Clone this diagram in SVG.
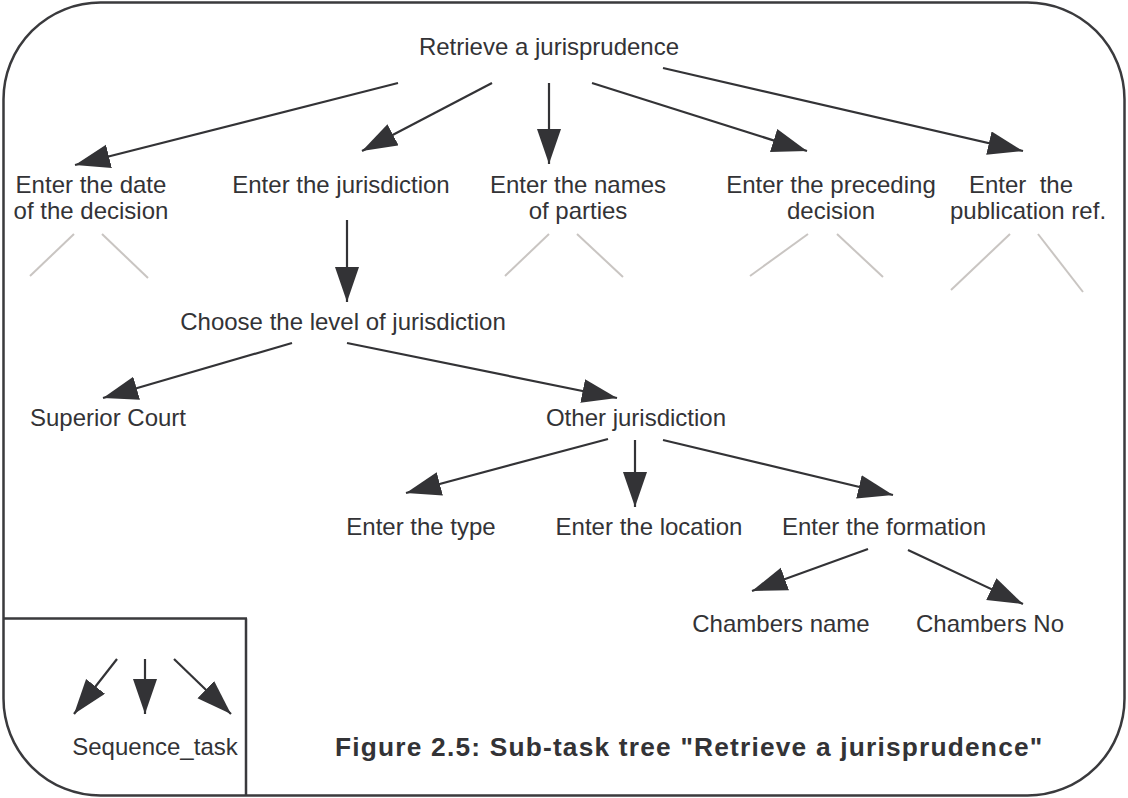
<svg xmlns="http://www.w3.org/2000/svg" width="1128" height="798" viewBox="0 0 1128 798">
<style>
.t{font-family:"Liberation Sans",Arial,sans-serif;font-size:24px;fill:#333336;text-anchor:middle}
.cap{font-family:"Liberation Sans",Arial,sans-serif;font-size:26.3px;font-weight:bold;fill:#333336;letter-spacing:1.2px}
.c{stroke:#333336;stroke-width:2.2;fill:none;marker-end:url(#ah)}
.g{stroke:#c9c5c2;stroke-width:2;fill:none}
.frame{stroke:#3a3a3d;stroke-width:2.5;fill:none}
</style>
<defs>
<marker id="ah" markerUnits="userSpaceOnUse" markerWidth="38" markerHeight="26" refX="35" refY="12" orient="auto">
<path d="M0,0 L35,12 L0,24 z" fill="#333336"/>
</marker>
</defs>
<rect class="frame" x="3.5" y="2.5" width="1121" height="793" rx="97" ry="97"/>
<g id="legend">
<path class="frame" d="M3.5,618.5 H247 M246,618.5 V796"/>
<line class="c" x1="117" y1="659" x2="74" y2="714"/>
<line class="c" x1="145" y1="659" x2="145" y2="714"/>
<line class="c" x1="174" y1="659" x2="231" y2="714"/>
<text class="t" x="155" y="755">Sequence_task</text>
</g>
<g id="caption"><text class="cap" x="335" y="756">Figure 2.5: Sub-task tree "Retrieve a jurisprudence"</text></g>
<g id="connectors">
<line class="c" x1="398" y1="83" x2="75" y2="165"/>
<line class="c" x1="492" y1="83" x2="362" y2="151"/>
<line class="c" x1="549" y1="83" x2="549" y2="164"/>
<line class="c" x1="592" y1="83" x2="807" y2="151"/>
<line class="c" x1="663" y1="68" x2="1023" y2="151"/>
<line class="c" x1="347" y1="220" x2="347" y2="302"/>
<line class="c" x1="292" y1="343" x2="103" y2="398"/>
<line class="c" x1="347" y1="343" x2="617" y2="398"/>
<line class="c" x1="608" y1="439" x2="406" y2="493"/>
<line class="c" x1="635" y1="440" x2="635" y2="507"/>
<line class="c" x1="663" y1="440" x2="893" y2="495"/>
<line class="c" x1="868" y1="549" x2="752" y2="591"/>
<line class="c" x1="908" y1="550" x2="1023" y2="604"/>
<g id="stubs">
<line class="g" x1="30" y1="276" x2="74" y2="234"/>
<line class="g" x1="102" y1="234" x2="148" y2="278"/>
<line class="g" x1="505" y1="276" x2="549" y2="234"/>
<line class="g" x1="577" y1="234" x2="623" y2="277"/>
<line class="g" x1="750" y1="276" x2="808" y2="234"/>
<line class="g" x1="837" y1="234" x2="883" y2="277"/>
<line class="g" x1="951" y1="290" x2="1010" y2="234"/>
<line class="g" x1="1038" y1="234" x2="1083" y2="292"/>
</g>
</g>
<g id="n-root"><text class="t" x="549" y="55">Retrieve a jurisprudence</text></g>
<g id="n-date"><text class="t" x="91" y="193">Enter the date</text><text class="t" x="91" y="219">of the decision</text></g>
<g id="n-jur"><text class="t" x="341" y="193">Enter the jurisdiction</text></g>
<g id="n-names"><text class="t" x="578" y="193">Enter the names</text><text class="t" x="578" y="219">of parties</text></g>
<g id="n-prec"><text class="t" x="831" y="193">Enter the preceding</text><text class="t" x="831" y="219">decision</text></g>
<g id="n-pub"><text class="t" x="1021" y="193" style="white-space:pre">Enter  the</text><text class="t" x="1028" y="219">publication ref.</text></g>
<g id="n-level"><text class="t" x="343" y="330">Choose the level of jurisdiction</text></g>
<g id="n-sup"><text class="t" x="108" y="426">Superior Court</text></g>
<g id="n-other"><text class="t" x="636" y="426">Other jurisdiction</text></g>
<g id="n-type"><text class="t" x="421" y="535">Enter the type</text></g>
<g id="n-loc"><text class="t" x="649" y="535">Enter the location</text></g>
<g id="n-form"><text class="t" x="884" y="535">Enter the formation</text></g>
<g id="n-cname"><text class="t" x="781" y="632">Chambers name</text></g>
<g id="n-cno"><text class="t" x="990" y="632">Chambers No</text></g>
</svg>
